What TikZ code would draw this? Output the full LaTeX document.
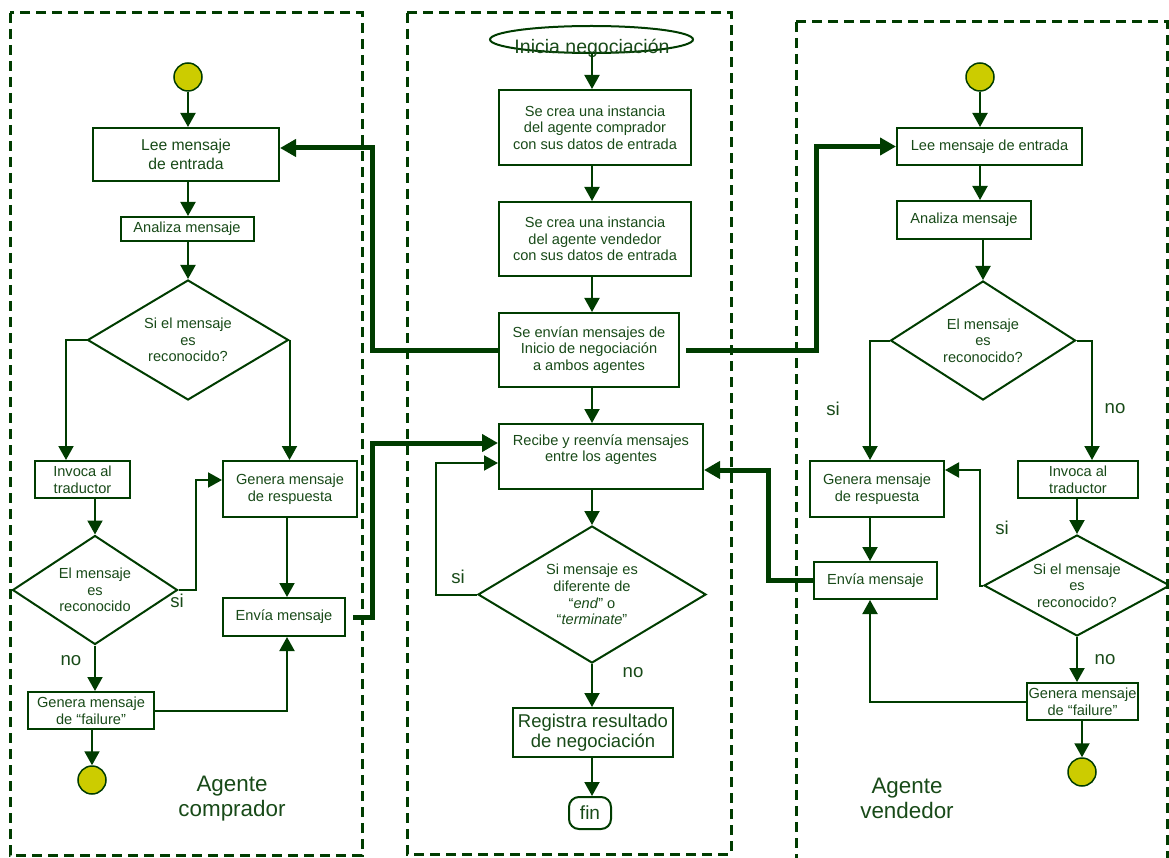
\documentclass[tikz,border=0pt]{standalone}
\usepackage{fontspec}
\setmainfont{Liberation Sans}
\usetikzlibrary{arrows.meta,shapes.geometric}
\definecolor{linegreen}{RGB}{0,60,0}
\definecolor{textgreen}{RGB}{24,74,24}
\definecolor{dotyellow}{RGB}{204,204,0}

\begin{document}
\begin{tikzpicture}[x=1pt,y=-1pt,
  every node/.style={text=textgreen, font=\fontsize{14.6}{16.7}\selectfont},
  box/.style={draw=linegreen, line width=2pt, rectangle, inner sep=0pt, align=center},
  decision/.style={draw=linegreen, line width=2pt, diamond, inner sep=0pt, align=center},
  dot/.style={draw=linegreen, line width=1.5pt, circle, fill=dotyellow, minimum size=28pt, inner sep=0pt},
  arr/.style={draw=linegreen, line width=2pt, -{Triangle[length=14pt,width=15pt]}},
  bigarr/.style={draw=linegreen, line width=5pt, -{Triangle[length=16pt,width=17pt]}},
  lane/.style={draw=linegreen, line width=3pt, dash pattern=on 10pt off 6pt},
  tag/.style={font=\fontsize{18.6}{20}\selectfont, inner sep=0pt},
  title/.style={font=\fontsize{22.4}{25}\selectfont, align=center, inner sep=0pt},
]
\useasboundingbox (0,0) rectangle (1169,858);

% swimlanes
\draw[lane] (10,13) rectangle (362,855);
\draw[lane] (407,13) rectangle (731,854);
\draw[lane] (796,22) rectangle (1167,880);

% ---------- buyer agent ----------
\node[dot] (lstart) at (188,77) {};
\node[box, minimum width=186pt, minimum height=53pt, font=\fontsize{15.7}{19}\selectfont] (llee) at (186,154.5) {Lee mensaje\\de entrada};
\node[box, minimum width=133pt, minimum height=24pt] (lanal) at (187,229) {Analiza mensaje};
\node[decision, minimum width=201pt, minimum height=120pt, aspect=1.675] (ldec) at (188,340) {Si el mensaje\\es\\reconocido?};
\node[box, minimum width=95pt, minimum height=37pt] (linv) at (82.5,479.5) {Invoca al\\traductor};
\node[box, minimum width=134pt, minimum height=56pt] (lgen) at (290,489) {Genera mensaje\\de respuesta};
\node[decision, minimum width=165pt, minimum height=109pt, aspect=1.51] (ldec2) at (95,590) {El mensaje\\es\\reconocido};
\node[box, minimum width=122pt, minimum height=38pt] (lenv) at (284,617) {Envía mensaje};
\node[box, minimum width=126pt, minimum height=37pt] (lfail) at (91,710.5) {Genera mensaje\\de “failure”};
\node[dot] (lend) at (92,780) {};
\node[title] (lname) at (232,799) {Agente\\comprador};
\node[tag] (lsi) at (177,601) {si};
\node[tag] (lno) at (71,661) {no};

\draw[arr] (lstart) -- (lstart |- llee.north);
\draw[arr] (llee.south -| lstart) -- (lanal.north -| lstart);
\draw[arr] (lanal.south -| ldec.north) -- (ldec.north);
\draw[arr] (ldec.west) -| ([xshift=-16.5pt]linv.north);
\draw[arr] (ldec.east) -- (ldec.east |- lgen.north);
\draw[arr] (linv.south -| ldec2.north) -- (ldec2.north);
\draw[arr] (ldec2.east) -- ++(17,0) |- ([yshift=9pt]lgen.west);
\draw[arr] ([xshift=-3pt]lgen.south) -- ([xshift=-3pt]lgen.south |- lenv.north);
\draw[arr] (ldec2.south) -- (ldec2.south |- lfail.north);
\draw[arr] (lfail.east) -| ([xshift=3pt]lenv.south);
\draw[arr] (lfail.south -| lend) -- (lend);

% ---------- negotiation ----------
\coordinate (cx) at (592,0);
\node[draw=linegreen, line width=2pt, ellipse, minimum width=203pt, minimum height=27pt, inner sep=0pt] (cini) at (591.5,39.5) {};
\node[font=\fontsize{19.5}{22}\selectfont, inner sep=0pt] (cinitxt) at (592,48) {Inicia negociación};
\node[box, minimum width=192pt, minimum height=75pt] (cb1) at (595,127.5) {Se crea una instancia\\del agente comprador\\con sus datos de entrada};
\node[box, minimum width=192pt, minimum height=74pt] (cb2) at (595,239) {Se crea una instancia\\del agente vendedor\\con sus datos de entrada};
\node[box, minimum width=180pt, minimum height=74pt] (cenv) at (589,350) {Se envían mensajes de\\Inicio de negociación\\a ambos agentes};
\node[box, minimum width=204pt, minimum height=65pt] (crec) at (601,456.5) {Recibe y reenvía mensajes\\entre los agentes\\\mbox{}};
\node[decision, minimum width=228pt, minimum height=137pt, aspect=1.66] (cdec) at (592,594.5) {Si mensaje es\\diferente de\\“\textit{end}” o\\“\textit{terminate}”};
\node[box, minimum width=160pt, minimum height=49pt, font=\fontsize{18.5}{20}\selectfont] (creg) at (593,732.5) {Registra resultado\\de negociación};
\node[box, rounded corners=10pt, minimum width=42pt, minimum height=32pt, font=\fontsize{19}{22}\selectfont] (cfin) at (590,813) {fin};
\node[tag] (csi) at (458,577) {si};
\node[tag] (cno) at (633,673) {no};

\draw[arr] (cini.south -| cx) -- (cb1.north -| cx);
\draw[arr] (cb1.south -| cx) -- (cb2.north -| cx);
\draw[arr] (cb2.south -| cx) -- (cenv.north -| cx);
\draw[arr] (cenv.south -| cx) -- (crec.north -| cx);
\draw[arr] (crec.south -| cdec.north) -- (cdec.north);
\draw[arr] (cdec.south) -- (cdec.south |- creg.north);
\draw[arr] (creg.south -| cdec.south) -- (cfin.north -| cdec.south);
\draw[arr] (cdec.west) -- ++(-41,0) |- ([yshift=-6.5pt]crec.west);

% ---------- seller agent ----------
\node[dot] (rstart) at (980,77) {};
\node[box, minimum width=185pt, minimum height=37pt] (rlee) at (989.5,146.5) {Lee mensaje de entrada};
\node[box, minimum width=134pt, minimum height=38pt] (ranal) at (964,220) {Analiza mensaje};
\node[decision, minimum width=185pt, minimum height=119pt, aspect=1.55] (rdec) at (983,340.5) {El mensaje\\es\\reconocido?};
\node[box, minimum width=134pt, minimum height=56pt] (rgen) at (877,489) {Genera mensaje\\de respuesta};
\node[box, minimum width=120pt, minimum height=37pt] (rinv) at (1078,479.5) {Invoca al\\traductor};
\node[box, minimum width=123pt, minimum height=37pt] (renv) at (875.5,580.5) {Envía mensaje};
\node[decision, minimum width=186pt, minimum height=101pt, aspect=1.84] (rdec2) at (1077,585.5) {Si el mensaje\\es\\reconocido?};
\node[box, minimum width=111pt, minimum height=37pt] (rfail) at (1082.5,701.5) {Genera mensaje\\de “failure”};
\node[dot] (rend) at (1082,772) {};
\node[title] (rname) at (907,798) {Agente\\vendedor};
\node[tag] (rsi1) at (833,409) {si};
\node[tag] (rno1) at (1115,409) {no};
\node[tag] (rsi2) at (1002,528) {si};
\node[tag] (rno2) at (1105,660) {no};

\draw[arr] (rstart) -- (rstart |- rlee.north);
\draw[arr] (rlee.south -| rstart) -- (ranal.north -| rstart);
\draw[arr] (ranal.south -| rdec.north) -- (rdec.north);
\draw[arr] (rdec.west) -| ([xshift=-7pt]rgen.north);
\draw[arr] (rdec.east) -| ([xshift=14pt]rinv.north);
\draw[arr] ([xshift=-7pt]rgen.south) -- ([xshift=-7pt]rgen.south |- renv.north);
\draw[arr] (rinv.south -| rdec2.north) -- (rdec2.north);
\draw[arr] (rdec2.west) -- ++(-3,0) |- ([yshift=19pt]rgen.east);
\draw[arr] (rdec2.south) -- (rdec2.south |- rfail.north);
\draw[arr] (rfail.west) -| ([xshift=-5.5pt]renv.south);
\draw[arr] (rfail.south -| rend) -- (rend);

% ---------- message flow between lanes ----------
\draw[bigarr] (cenv.west) -- ++(-126,0) |- ([yshift=6.5pt]llee.east);
\draw[bigarr] ([xshift=7pt]lenv.east) -- ++(19,0) |- ([yshift=13.5pt]crec.west);
\draw[bigarr] (renv.west) -- ++(-45,0) |- ([yshift=-13.5pt]crec.east);
\draw[bigarr] ([xshift=6pt]cenv.east) -- ++(130,0) |- (rlee.west);
\end{tikzpicture}
\end{document}
